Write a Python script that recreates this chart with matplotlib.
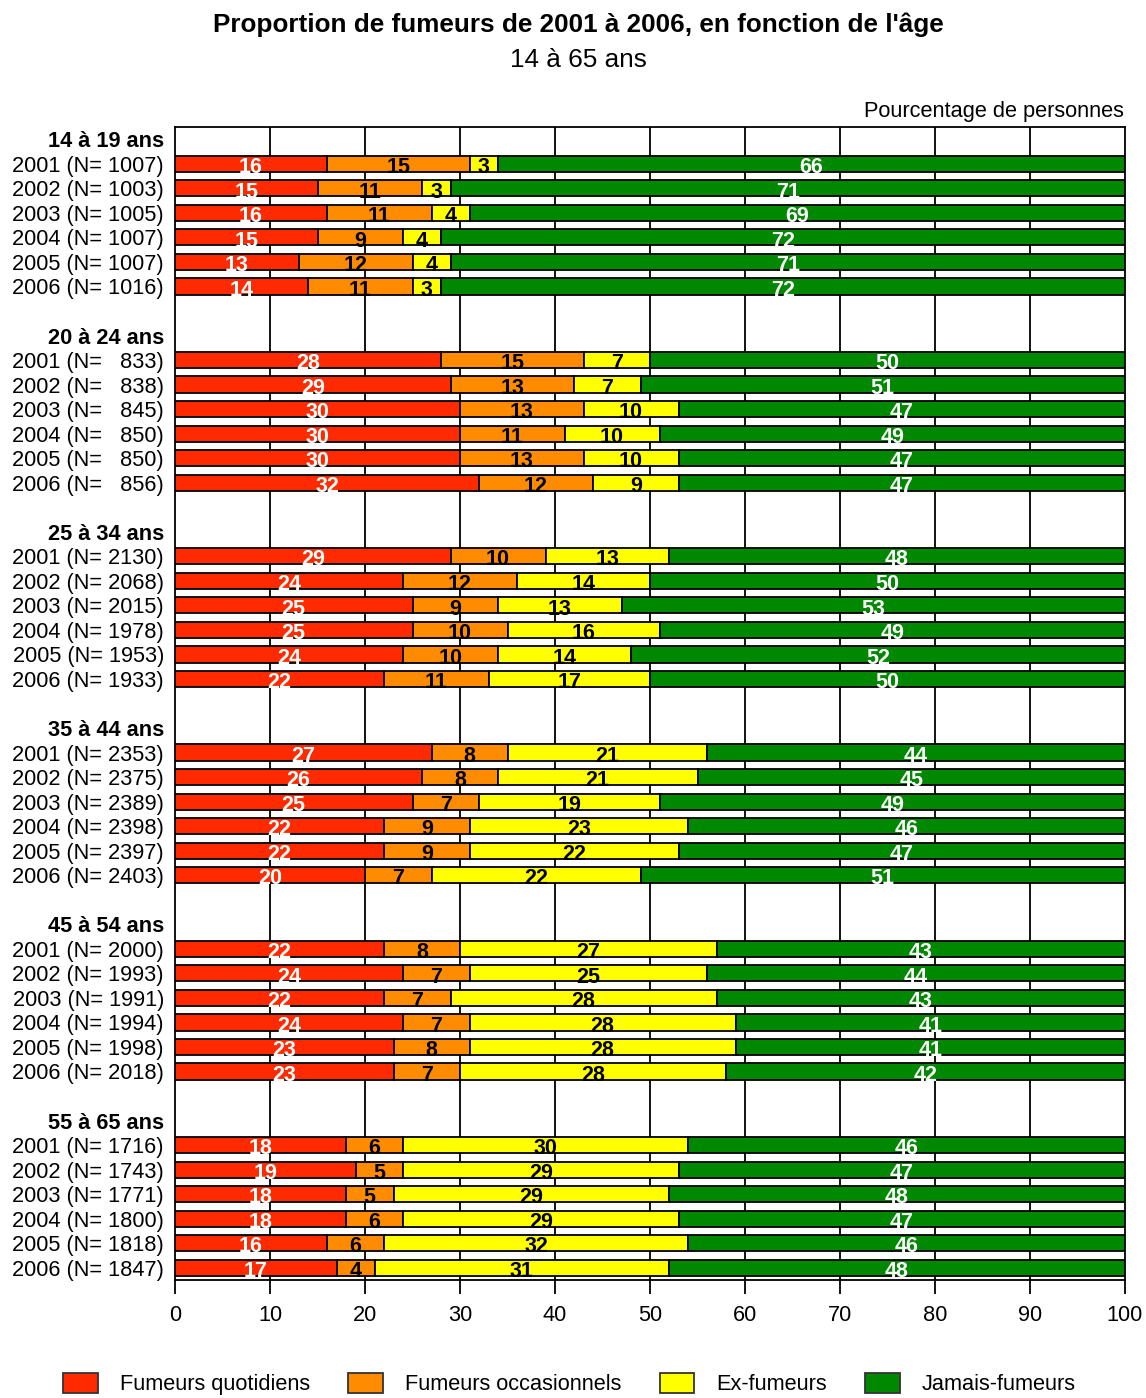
import matplotlib.pyplot as plt
from matplotlib.patches import Patch

plt.rcParams['font.family'] = ['Liberation Sans', 'DejaVu Sans']

groups = ["14 à 19 ans", "20 à 24 ans", "25 à 34 ans", "35 à 44 ans", "45 à 54 ans", "55 à 65 ans"]
years = ["2001", "2002", "2003", "2004", "2005", "2006"]
effectifs = [
    [1007, 1003, 1005, 1007, 1007, 1016],
    [833, 838, 845, 850, 850, 856],
    [2130, 2068, 2015, 1978, 1953, 1933],
    [2353, 2375, 2389, 2398, 2397, 2403],
    [2000, 1993, 1991, 1994, 1998, 2018],
    [1716, 1743, 1771, 1800, 1818, 1847],
]
quotidiens = [
    [16, 15, 16, 15, 13, 14],
    [28, 29, 30, 30, 30, 32],
    [29, 24, 25, 25, 24, 22],
    [27, 26, 25, 22, 22, 20],
    [22, 24, 22, 24, 23, 23],
    [18, 19, 18, 18, 16, 17],
]
occasionnels = [
    [15, 11, 11, 9, 12, 11],
    [15, 13, 13, 11, 13, 12],
    [10, 12, 9, 10, 10, 11],
    [8, 8, 7, 9, 9, 7],
    [8, 7, 7, 7, 8, 7],
    [6, 5, 5, 6, 6, 4],
]
ex_fumeurs = [
    [3, 3, 4, 4, 4, 3],
    [7, 7, 10, 10, 10, 9],
    [13, 14, 13, 16, 14, 17],
    [21, 21, 19, 23, 22, 22],
    [27, 25, 28, 28, 28, 28],
    [30, 29, 29, 29, 32, 31],
]
jamais = [
    [66, 71, 69, 72, 71, 72],
    [50, 51, 47, 49, 47, 47],
    [48, 50, 53, 49, 52, 50],
    [44, 45, 49, 46, 47, 51],
    [43, 44, 43, 41, 41, 42],
    [46, 47, 48, 47, 46, 48],
]

series = [quotidiens, occasionnels, ex_fumeurs, jamais]
noms = ["Fumeurs quotidiens", "Fumeurs occasionnels", "Ex-fumeurs", "Jamais-fumeurs"]
couleurs = ["#ff2a00", "#ff8c00", "#ffff00", "#008800"]
txt_couleurs = ["white", "black", "black", "white"]

fig = plt.figure(figsize=(11.46, 13.98), dpi=100)
ax = fig.add_axes([175 / 1146, 1 - 1280 / 1398, 950 / 1146, 1153 / 1398])

ypos, ylabels, yweights = [], [], []
row = 0
for g, grp in enumerate(groups):
    ypos.append(row)
    ylabels.append(grp)
    yweights.append("bold")
    for i, yr in enumerate(years):
        r = row + 1 + i
        n = effectifs[g][i]
        ypos.append(r)
        # 3-digit N gets extra spaces so the columns line up
        ylabels.append(f"{yr} (N=   {n})" if n < 1000 else f"{yr} (N= {n})")
        yweights.append("normal")
        left = 0
        for s, data in enumerate(series):
            v = data[g][i]
            ax.barh(r, v, left=left, height=0.66, color=couleurs[s],
                    edgecolor="black", linewidth=1.3, zorder=3)
            ax.text(left + v / 2, r + 0.15, str(v), ha="center", va="center",
                    color=txt_couleurs[s], fontsize=15.5, fontweight="bold", zorder=4)
            left += v
    row += 8

ax.set_xlim(0, 100)
ax.set_ylim(row - 1.5, -0.5)
ax.set_yticks(ypos)
ax.set_yticklabels(ylabels, fontsize=15.7)
for lab, w in zip(ax.get_yticklabels(), yweights):
    lab.set_fontweight(w)
ax.tick_params(axis="y", length=0, pad=8)
ax.set_xticks(range(0, 101, 10))
ax.tick_params(axis="x", labelsize=15.7, length=10, width=1.3, pad=8)
for xv in range(10, 100, 10):
    ax.axvline(xv, color="black", linewidth=1.3, zorder=1)
for sp in ax.spines.values():
    sp.set_linewidth(1.3)

fig.text(0.505, 1 - 25 / 1398, "Proportion de fumeurs de 2001 à 2006, en fonction de l'âge",
         ha="center", va="center", fontsize=18.8, fontweight="bold")
fig.text(0.505, 1 - 60 / 1398, "14 à 65 ans", ha="center", va="center", fontsize=18.8)
fig.text(1124 / 1146, 1 - 111 / 1398, "Pourcentage de personnes", ha="right", va="center", fontsize=15.7)

handles = [Patch(facecolor=c, edgecolor="#333333", linewidth=1.3) for c in couleurs]
fig.legend(handles, noms, loc="lower center", bbox_to_anchor=(0.497, -0.006), ncol=4,
           frameon=False, fontsize=15.7, handlelength=1.6, handleheight=1.05,
           handletextpad=1.0, columnspacing=1.75, borderpad=0)

plt.savefig("out.png", dpi=100)
